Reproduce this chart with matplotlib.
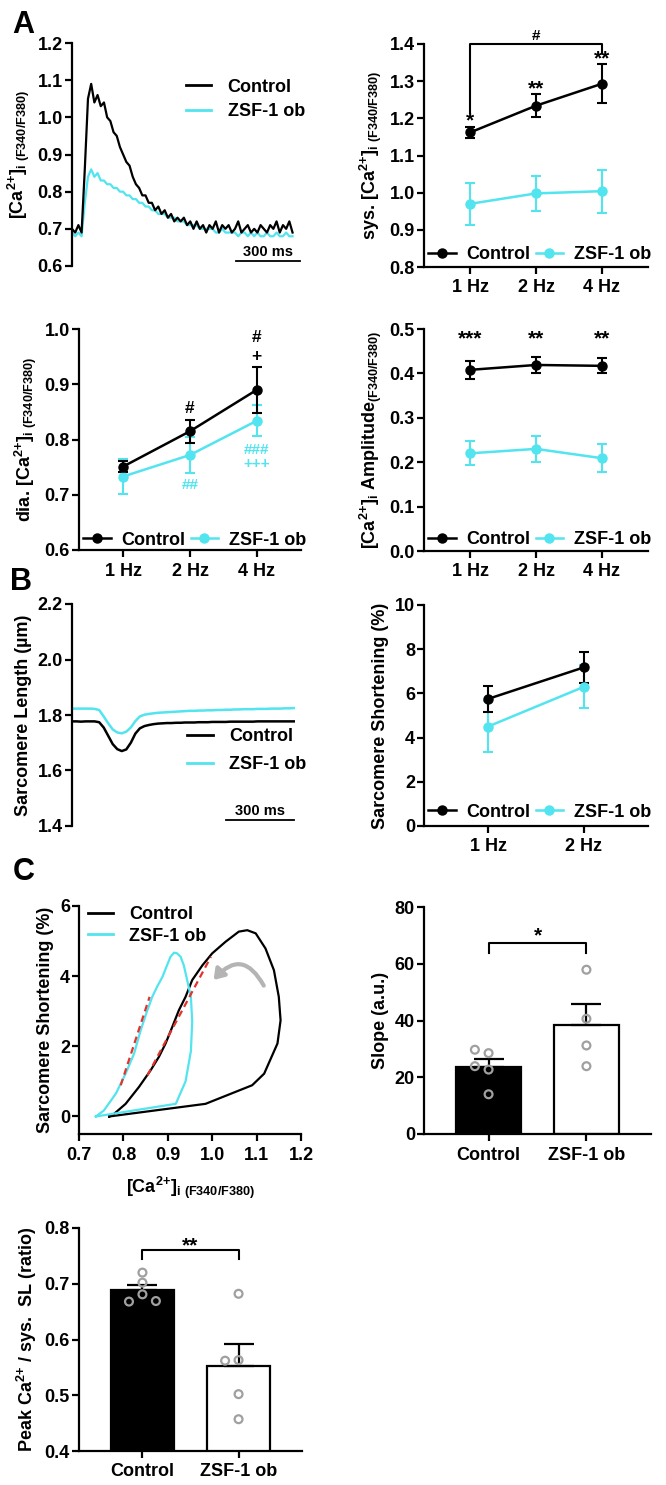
import numpy as np
import matplotlib
matplotlib.use('Agg')
import matplotlib.pyplot as plt
from matplotlib.lines import Line2D
from matplotlib.patches import FancyArrowPatch

plt.rcParams['font.family'] = ['Liberation Sans', 'DejaVu Sans']
plt.rcParams['font.weight'] = 'bold'
plt.rcParams['axes.labelweight'] = 'bold'
plt.rcParams['mathtext.default'] = 'regular'
plt.rcParams['font.size'] = 13

CTRL = 'black'
ZSF = '#52e4ef'
GREY = '#a0a0a0'
RED = '#e3332c'
W, H = 666, 1485
FS = 13

# ---- data ----
freqs = ['1 Hz', '2 Hz', '4 Hz']
freqs_sl = ['1 Hz', '2 Hz']

# Ca transient traces (ratio F340/F380), sampled every 15 ms
t_ca = np.arange(0, 1050, 15)
ca_ctrl = [0.70, 0.69, 0.71, 0.69, 0.86, 1.05, 1.09, 1.04, 1.06, 1.03,
           1.04, 1.00, 0.99, 0.96, 0.95, 0.92, 0.90, 0.88, 0.87, 0.84,
           0.82, 0.81, 0.79, 0.79, 0.77, 0.77, 0.75, 0.76, 0.74, 0.75,
           0.73, 0.74, 0.72, 0.73, 0.72, 0.73, 0.71, 0.72, 0.70, 0.72,
           0.70, 0.71, 0.69, 0.71, 0.70, 0.72, 0.69, 0.71, 0.70, 0.71,
           0.69, 0.70, 0.72, 0.69, 0.70, 0.71, 0.69, 0.70, 0.69, 0.71,
           0.70, 0.69, 0.71, 0.70, 0.72, 0.69, 0.71, 0.70, 0.72, 0.69]
ca_zsf = [0.69, 0.68, 0.69, 0.68, 0.77, 0.84, 0.86, 0.84, 0.85, 0.83,
          0.83, 0.82, 0.82, 0.81, 0.81, 0.80, 0.80, 0.79, 0.79, 0.78,
          0.78, 0.77, 0.77, 0.76, 0.76, 0.75, 0.75, 0.74, 0.74, 0.74,
          0.73, 0.73, 0.73, 0.72, 0.72, 0.72, 0.71, 0.71, 0.71, 0.71,
          0.70, 0.70, 0.70, 0.70, 0.70, 0.69, 0.69, 0.70, 0.69, 0.69,
          0.69, 0.69, 0.68, 0.69, 0.69, 0.68, 0.69, 0.68, 0.69, 0.68,
          0.68, 0.69, 0.68, 0.68, 0.69, 0.68, 0.68, 0.69, 0.68, 0.68]

sys_ctrl = [1.162, 1.234, 1.293]
sys_ctrl_sem = [0.016, 0.031, 0.052]
sys_zsf = [0.970, 0.998, 1.004]
sys_zsf_sem = [0.057, 0.048, 0.058]

dia_ctrl = [0.751, 0.815, 0.890]
dia_ctrl_sem = [0.010, 0.021, 0.042]
dia_zsf = [0.733, 0.772, 0.834]
dia_zsf_sem = [0.031, 0.033, 0.028]

amp_ctrl = [0.408, 0.419, 0.417]
amp_ctrl_sem = [0.021, 0.017, 0.017]
amp_zsf = [0.220, 0.230, 0.209]
amp_zsf_sem = [0.027, 0.030, 0.032]

# sarcomere length traces (um), sampled every 20 ms
t_sl = np.arange(0, 1000, 20)
sl_ctrl = [1.777, 1.777, 1.776, 1.777, 1.777, 1.777, 1.774, 1.755, 1.725, 1.695,
           1.677, 1.670, 1.676, 1.700, 1.733, 1.752, 1.760, 1.764, 1.767, 1.769,
           1.770, 1.771, 1.771, 1.772, 1.772, 1.773, 1.773, 1.773, 1.774, 1.774,
           1.774, 1.775, 1.775, 1.775, 1.775, 1.776, 1.776, 1.776, 1.776, 1.776,
           1.776, 1.777, 1.777, 1.777, 1.777, 1.777, 1.777, 1.777, 1.777, 1.777]
sl_zsf = [1.823, 1.823, 1.823, 1.823, 1.823, 1.822, 1.818, 1.795, 1.770, 1.748,
          1.737, 1.734, 1.740, 1.755, 1.778, 1.795, 1.801, 1.804, 1.806, 1.808,
          1.809, 1.810, 1.811, 1.812, 1.813, 1.814, 1.815, 1.815, 1.816, 1.816,
          1.817, 1.817, 1.818, 1.818, 1.819, 1.819, 1.820, 1.820, 1.821, 1.821,
          1.821, 1.822, 1.822, 1.822, 1.823, 1.823, 1.823, 1.824, 1.824, 1.825]

short_ctrl = [5.75, 7.18]
short_ctrl_sem = [0.57, 0.71]
short_zsf = [4.50, 6.30]
short_zsf_sem = [1.17, 0.98]

# Ca vs shortening loops
loop_ctrl_ca = [0.768, 0.985, 1.090, 1.117, 1.147, 1.154, 1.150, 1.139, 1.120, 1.098,
                1.079, 1.060, 1.030, 1.000, 0.978, 0.955, 0.940, 0.925, 0.910, 0.895,
                0.880, 0.861, 0.835, 0.805, 0.775, 0.768]
loop_ctrl_sl = [0.00, 0.36, 0.89, 1.22, 2.08, 2.74, 3.41, 4.17, 4.79, 5.22,
                5.31, 5.27, 4.98, 4.65, 4.31, 3.89, 3.41, 3.03, 2.55, 2.08,
                1.70, 1.31, 0.84, 0.36, 0.03, 0.00]
loop_zsf_ca = [0.738, 0.918, 0.940, 0.952, 0.955, 0.952, 0.942, 0.936, 0.929, 0.921,
               0.914, 0.906, 0.897, 0.888, 0.876, 0.865, 0.854, 0.839, 0.824, 0.805,
               0.783, 0.756, 0.738]
loop_zsf_sl = [0.00, 0.36, 1.00, 1.86, 2.71, 3.41, 3.98, 4.31, 4.55, 4.65,
               4.67, 4.55, 4.27, 3.98, 3.70, 3.41, 3.03, 2.46, 1.79, 1.22,
               0.65, 0.17, 0.00]
fit_ctrl_ca = [0.854, 0.997]
fit_ctrl_sl = [1.17, 4.55]
fit_zsf_ca = [0.794, 0.859]
fit_zsf_sl = [0.89, 3.41]

groups = ['Control', 'ZSF-1 ob']
slope_ctrl = [29.7, 28.5, 23.9, 22.7, 14.0]
slope_zsf = [57.9, 40.6, 31.2, 23.9]
ratio_ctrl = [0.668, 0.720, 0.702, 0.681, 0.669]
ratio_zsf = [0.682, 0.562, 0.563, 0.502, 0.457]

fig = plt.figure(figsize=(W / 100, H / 100), dpi=100)


def add_ax(l, t, r, b):
    return fig.add_axes([l / W, 1 - b / H, (r - l) / W, (b - t) / H])


def style(ax, bottom=True):
    ax.spines['top'].set_visible(False)
    ax.spines['right'].set_visible(False)
    ax.spines['left'].set_linewidth(1.6)
    ax.spines['bottom'].set_linewidth(1.6)
    ax.tick_params(width=1.6, length=5, labelsize=FS)
    ax.tick_params(axis='y', pad=1.5)
    ax.tick_params(axis='x', pad=4)
    if not bottom:
        ax.spines['bottom'].set_visible(False)
        ax.set_xticks([])


def mark(ax, x, y, txt, color='k', size=FS, star=False):
    # asterisks sit high in the glyph box, pull them down a bit
    ax.annotate(txt, (x, y), xytext=(0, -3 if star else 0), textcoords='offset points',
                ha='center', va='center', color=color, fontsize=size, annotation_clip=False)


def freq_panel(ax, labels, c, ce, z, ze, ylim, yticks, ylabel, leg_y):
    x = np.arange(len(labels))
    kw = dict(marker='o', ms=6.5, lw=1.8, elinewidth=1.5, capsize=3.5, capthick=1.5)
    ax.errorbar(x, z, yerr=ze, color=ZSF, **kw)
    ax.errorbar(x, c, yerr=ce, color=CTRL, **kw)
    ax.set_xticks(x)
    ax.set_xticklabels(labels)
    ax.set_ylim(ylim)
    ax.set_yticks(yticks)
    ax.set_ylabel(ylabel, fontsize=FS)
    style(ax)
    hs = [Line2D([], [], color=CTRL, marker='o', ms=6.5, lw=1.8),
          Line2D([], [], color=ZSF, marker='o', ms=6.5, lw=1.8)]
    ax.legend(hs, groups, loc='center left', bbox_to_anchor=(0.02, leg_y), frameon=False,
              ncol=2, handlelength=1.5, handletextpad=0.6, columnspacing=0.3,
              borderaxespad=0, borderpad=0, fontsize=FS)


def bar_panel(ax, cv, zv, cdx, zdx, ylim, yticks, ylabel):
    vals = [cv, zv]
    means = [np.mean(v) for v in vals]
    sems = [np.std(v, ddof=1) / np.sqrt(len(v)) for v in vals]
    x = np.arange(2)
    ax.bar(x, means, width=0.66, color=['black', 'white'], edgecolor='black', linewidth=1.6, zorder=1)
    ax.errorbar(x, means, yerr=[[0, 0], sems], fmt='none', ecolor='black', elinewidth=1.6,
                capsize=11, capthick=1.6, zorder=2)
    for i, (v, dx) in enumerate(zip(vals, [cdx, zdx])):
        ax.scatter(np.array(dx) + i, v, s=32, facecolor='none', edgecolor=GREY, linewidth=1.6, zorder=3)
    ax.set_xticks(x)
    ax.set_xticklabels(groups)
    ax.set_xlim(-0.66, 1.66)
    ax.set_ylim(ylim)
    ax.set_yticks(yticks)
    ax.set_ylabel(ylabel, fontsize=FS)
    style(ax)


def bracket(ax, x0, x1, y, y0, y1):
    ax.plot([x0, x0, x1, x1], [y0, y, y, y1], color='k', lw=1.5, clip_on=False)


ca_lab = r'[Ca$^{2{+}}$]$_{i\ (F340/F380)}$'
legend_lines = [Line2D([], [], color=CTRL, lw=2), Line2D([], [], color=ZSF, lw=2)]

# ---- A: Ca transient ----
ax = add_ax(72, 43, 300, 266)
ax.plot(t_ca, ca_zsf, color=ZSF, lw=1.6)
ax.plot(t_ca, ca_ctrl, color=CTRL, lw=1.6)
ax.set_xlim(0, 1070)
ax.set_ylim(0.6, 1.2)
ax.set_yticks([0.6, 0.7, 0.8, 0.9, 1.0, 1.1, 1.2])
ax.set_ylabel(ca_lab, fontsize=FS)
style(ax, bottom=False)
ax.plot([770, 1070], [0.613, 0.613], color='k', lw=1.3, clip_on=False)
ax.text(920, 0.618, '300 ms', ha='center', va='bottom', fontsize=10.5)
ax.legend(legend_lines, groups, loc='upper left', bbox_to_anchor=(0.5, 0.84), frameon=False,
          handlelength=1.4, handletextpad=0.9, labelspacing=0.4, borderaxespad=0, borderpad=0,
          fontsize=FS)

# ---- A: systolic Ca ----
ax = add_ax(424, 44, 648, 267)
freq_panel(ax, freqs, sys_ctrl, sys_ctrl_sem, sys_zsf, sys_zsf_sem, (0.8, 1.4),
           [0.8, 0.9, 1.0, 1.1, 1.2, 1.3, 1.4], 'sys. ' + ca_lab, 0.054)
ax.set_xlim(-0.7, 2.7)
bracket(ax, 0, 2, 1.40, 1.214, 1.376)
mark(ax, 1, 1.422, '#', size=11)
mark(ax, 0, 1.204, '*', size=15, star=True)
mark(ax, 1, 1.291, '**', size=15, star=True)
mark(ax, 2, 1.370, '**', size=15, star=True)

# ---- A: diastolic Ca ----
ax = add_ax(79, 329, 301, 550)
freq_panel(ax, freqs, dia_ctrl, dia_ctrl_sem, dia_zsf, dia_zsf_sem, (0.6, 1.0),
           [0.6, 0.7, 0.8, 0.9, 1.0], 'dia. ' + ca_lab, 0.045)
ax.set_xlim(-0.66, 2.66)
mark(ax, 1, 0.857, '#', size=12.5)
mark(ax, 2, 0.984, '#', size=12.5)
mark(ax, 2, 0.951, '+', size=12.5)
mark(ax, 1, 0.718, '##', color=ZSF, size=11)
mark(ax, 2, 0.781, '###', color=ZSF, size=11)
mark(ax, 2, 0.756, '+++', color=ZSF, size=11)

# ---- A: amplitude ----
ax = add_ax(424, 329, 648, 551)
freq_panel(ax, freqs, amp_ctrl, amp_ctrl_sem, amp_zsf, amp_zsf_sem, (0.0, 0.5),
           [0.0, 0.1, 0.2, 0.3, 0.4, 0.5], r'[Ca$^{2{+}}$]$_i$ Amplitude$_{(F340/F380)}$', 0.05)
ax.set_xlim(-0.7, 2.7)
for i, s in enumerate(['***', '**', '**']):
    mark(ax, i, 0.486, s, size=15, star=True)

# ---- B: sarcomere length trace ----
ax = add_ax(72, 604, 296, 826)
ax.plot(t_sl, sl_zsf, color=ZSF, lw=1.8)
ax.plot(t_sl, sl_ctrl, color=CTRL, lw=1.8)
ax.set_xlim(0, 990)
ax.set_ylim(1.4, 2.2)
ax.set_yticks([1.4, 1.6, 1.8, 2.0, 2.2])
ax.set_ylabel('Sarcomere Length (µm)', fontsize=FS)
style(ax, bottom=False)
ax.plot([680, 980], [1.423, 1.423], color='k', lw=1.3, clip_on=False)
ax.text(830, 1.428, '300 ms', ha='center', va='bottom', fontsize=10.5)
ax.legend(legend_lines, groups, loc='upper left', bbox_to_anchor=(0.515, 0.44), frameon=False,
          handlelength=1.4, handletextpad=0.9, labelspacing=0.6, borderaxespad=0, borderpad=0,
          fontsize=FS)

# ---- B: shortening ----
ax = add_ax(424, 605, 648, 826)
freq_panel(ax, freqs_sl, short_ctrl, short_ctrl_sem, short_zsf, short_zsf_sem, (0, 10),
           [0, 2, 4, 6, 8, 10], 'Sarcomere Shortening (%)', 0.063)
ax.set_xlim(-0.667, 1.667)

# ---- C: loops ----
ax = add_ax(79, 906, 301, 1134)
ax.plot(loop_ctrl_ca, loop_ctrl_sl, color=CTRL, lw=1.6)
ax.plot(loop_zsf_ca, loop_zsf_sl, color=ZSF, lw=1.6)
ax.plot(fit_ctrl_ca, fit_ctrl_sl, color=RED, lw=1.6, ls=(0, (3, 2)))
ax.plot(fit_zsf_ca, fit_zsf_sl, color=RED, lw=1.6, ls=(0, (3, 2)))
ax.add_patch(FancyArrowPatch((1.119, 3.66), (0.999, 3.83), connectionstyle='arc3,rad=0.75',
                             arrowstyle='-|>,head_length=6,head_width=4', color='#b4b4b4', lw=3))
ax.set_xlim(0.7, 1.2)
ax.set_ylim(-0.5, 6)
ax.set_xticks([0.7, 0.8, 0.9, 1.0, 1.1, 1.2])
ax.set_yticks([0, 2, 4, 6])
ax.set_xlabel(ca_lab, fontsize=FS, labelpad=8)
ax.set_ylabel('Sarcomere Shortening (%)', fontsize=FS)
style(ax)
ax.legend(legend_lines, groups, loc='upper left', bbox_to_anchor=(0.04, 1.0), frameon=False,
          handlelength=1.4, handletextpad=0.9, labelspacing=0.25, borderaxespad=0, borderpad=0,
          fontsize=FS)

# ---- C: slope ----
ax = add_ax(424, 907, 651, 1134)
bar_panel(ax, slope_ctrl, slope_zsf, [-0.14, 0, -0.14, 0, 0], [0, 0, 0, 0], (0, 80),
          [0, 20, 40, 60, 80], 'Slope (a.u.)')
bracket(ax, 0, 1, 67.4, 63.9, 63.9)
mark(ax, 0.5, 71.2, '*', size=15, star=True)

# ---- C: peak Ca / SL ratio ----
ax = add_ax(79, 1228, 302, 1451)
bar_panel(ax, ratio_ctrl, ratio_zsf, [-0.14, 0, 0, 0, 0.14], [0, -0.14, 0, 0, 0], (0.4, 0.8),
          [0.4, 0.5, 0.6, 0.7, 0.8], r'Peak Ca$^{2{+}}$ / sys.  SL (ratio)')
bracket(ax, 0, 1, 0.761, 0.744, 0.744)
mark(ax, 0.5, 0.776, '**', size=15, star=True)

fig.text(12 / W, 1 - 33 / H, 'A', fontsize=22, fontweight='bold', ha='left', va='baseline')
fig.text(10 / W, 1 - 590 / H, 'B', fontsize=22, fontweight='bold', ha='left', va='baseline')
fig.text(13 / W, 1 - 880 / H, 'C', fontsize=22, fontweight='bold', ha='left', va='baseline')

fig.savefig('out.png', dpi=100)
